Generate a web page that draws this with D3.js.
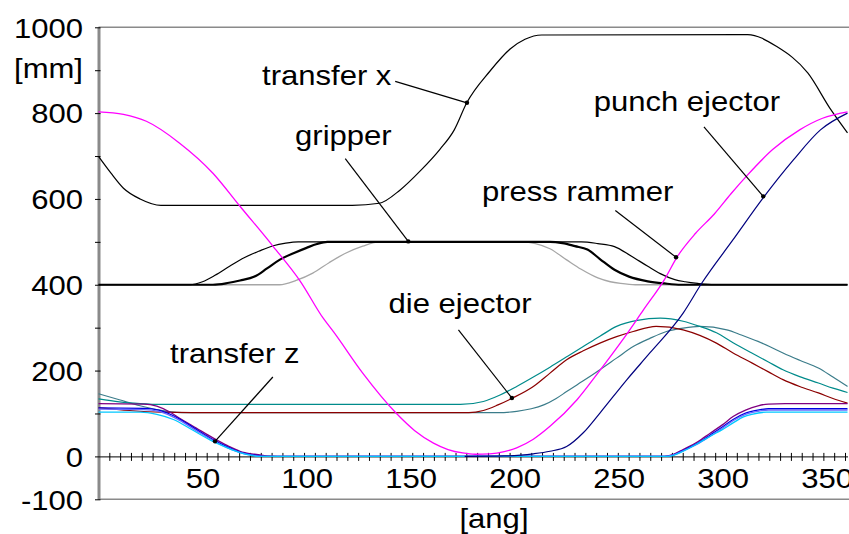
<!DOCTYPE html>
<html>
<head>
<meta charset="utf-8">
<script src="https://cdn.jsdelivr.net/npm/d3@7/dist/d3.min.js"></script>
<style>
  body { margin: 0; background: #fff; }
  svg text { font-family: "Liberation Sans", Arial, sans-serif; font-size: 27px; fill: #000; }
</style>
</head>
<body>
<div id="chart-area"></div>
<script>
/*
*    cam diagram - motion curves over one press cycle
*/

// [angle, mm] pairs
var transferX = [[0,699],[6,660],[12,625],[20,600],[30,585],[122,585],[135,590],[145,621],[155,667],[164,715],[171,761],[177,824],
                 [188,897],[198,950],[205,972],[213,982],[312,983],[326,955],[341,893],[352,808],[360,754]];
var pressRammer = [[0,803],[12,797],[23,781],[39,730],[55,660],[68,583],[84,489],[97,408],[108,322],[113,290],[127,194],[143,101],
                   [152,60],[161,31],[168,16],[175,8],[181,5],[188,6],[195,11],[201,20],[209,40],[217,70],[230,132],[240,194],
                   [252,272],[262,342],[272,412],[278,464],[287,520],[296,565],[304,612],[312,656],[324,715],[337,761],[348,788],[360,803]];
var punchEjector = [[176,0],[195,1],[203,3],[209,6],[217,12],[225,23],[233,55],[241,101],[254,179],[265,241],[281,334],[290,404],
                    [305,505],[320,606],[334,691],[347,761],[360,800]];
var gripperThin = [[0,400],[44,400],[50,407],[56,422],[63,443],[70,463],[77,478],[84,491],[90,497],[96,500],[232,500],[240,496],
                   [248,489],[256,467],[264,443],[270,426],[277,412],[282,407],[288,403],[296,400],[360,400]];
var gripperThick = [[0,400],[55,400],[62,404],[68,410],[75,419],[81,438],[87,458],[94,474],[100,486],[105,495],[110,500],[217,500],
                    [223,497],[229,490],[235,482],[241,460],[248,435],[255,419],[264,408],[272,403],[280,400],[360,400]];
var gripperGray = [[0,400],[87,400],[95,410],[103,427],[111,452],[119,474],[127,490],[135,500],[204,500],[210,496],[217,484],
                   [225,458],[232,436],[240,416],[246,407],[251,403],[258,400],[360,400]];
var dieTeal = [[0,134],[10,127],[20,123],[30,121],[174,121],[185,128],[193,143],[201,163],[209,185],[217,208],[225,232],[233,256],
               [241,280],[249,303],[259,317],[270,322],[281,315],[289,303],[297,288],[305,265],[314,241],[322,220],[329,202],
               [337,186],[346,171],[353,159],[360,149]];
var dieRed = [[0,113],[15,107],[30,103],[45,102],[178,102],[185,107],[192,120],[199,136],[209,163],[217,194],[225,225],[233,246],
              [241,264],[249,279],[257,291],[268,303],[281,295],[289,282],[297,264],[305,241],[314,218],[322,197],[329,179],
              [337,163],[346,148],[353,135],[360,124]];
var dieSlate = [[0,146],[10,132],[20,118],[28,109],[40,102],[192,102],[201,105],[208,111],[214,120],[220,135],[225,151],[233,176],
                [241,202],[249,229],[257,256],[265,275],[273,291],[281,299],[289,303],[302,295],[309,283],[317,268],[323,255],
                [329,241],[337,224],[346,206],[353,185],[360,163]];
var zPurple = [[0,123],[22,122],[28,117],[34,104],[39,89],[47,66],[55,43],[62,25],[68,12],[75,5],[81,1],[86,0],[272,0],[276,4],
               [281,16],[288,34],[294,54],[300,74],[305,93],[311,108],[317,118],[322,122],[330,123],[360,123]];
var zBlue = [[0,113],[22,112],[29,108],[35,97],[39,87],[47,63],[55,39],[62,22],[68,10],[75,3],[81,0],[272,0],[276,3],[281,14],
             [288,31],[294,50],[300,69],[305,86],[311,101],[317,108],[322,111],[360,111]];
var zBlue2 = [[0,110],[22,109],[29,105],[35,94],[39,84],[47,60],[55,37],[62,20],[68,9],[75,2],[80,0],[272,0],[276,3],[281,13],
              [288,29],[294,47],[300,66],[305,83],[311,98],[317,105],[322,108],[360,108]];
var zCyan = [[0,103],[20,103],[28,98],[36,86],[45,62],[55,35],[62,20],[68,9],[73,3],[77,0],[272,0],[276,2],[281,12],[288,30],
             [294,47],[300,63],[305,78],[310,92],[314,98],[321,103],[360,103]];

var yTicks = d3.range(-100, 1001, 100);
var yLabels = [-100, 0, 200, 400, 600, 800, 1000];
var xLabels = [50, 100, 150, 200, 250, 300, 350];

var noteTexts = ["transfer x", "gripper", "press rammer", "punch ejector", "die ejector", "transfer z"];
var notePos = [[78.6,866],[94.5,726],[184.3,596],[238,804],[139.4,334],[34.4,218]];
var noteFrom = [[142.6,874],[118.6,694],[248.4,573],[291,768],[173,295],[83.8,185]];
var noteTo = [[177.1,824],[148.9,501],[277.6,464],[319.5,606],[198.7,136],[56,35]];

var chartWidth = 849;
var chartHeight = 534;
var stretch = "scale(1.15,1)";

var svg = d3.select("#chart-area").append("svg").attr("width", chartWidth).attr("height", chartHeight);

var x = d3.scaleLinear().domain([0, 360]).range([98.5, 847.5]);
var y = d3.scaleLinear().domain([-100, 1000]).range([499.3, 27.3]);

// frame lines top and bottom
svg.append("line").attr("x1", x(0)).attr("x2", chartWidth).attr("y1", y(1000)).attr("y2", y(1000))
    .attr("stroke", "#8a8a8a").attr("stroke-width", 1.5);
svg.append("line").attr("x1", x(0)).attr("x2", chartWidth).attr("y1", y(-100)).attr("y2", y(-100))
    .attr("stroke", "#8a8a8a").attr("stroke-width", 1.5);

// x axis at zero
var xAxisGroup = svg.append("g").attr("transform", "translate(0," + y(0) + ")")
    .call(d3.axisBottom(x).tickValues(d3.range(0, 361, 5.2)).tickSizeOuter(0).tickFormat(""));
xAxisGroup.select(".domain").attr("stroke", "#000");
xAxisGroup.selectAll(".tick line").attr("y1", -3.5).attr("y2", 4.5).attr("stroke", "#000");

var xLabelGroup = svg.append("g").attr("transform", "translate(0," + y(0) + ")")
    .call(d3.axisBottom(x).tickValues(xLabels).tickSize(0).tickPadding(12));
xLabelGroup.select(".domain").remove();
xLabelGroup.selectAll("text").attr("font-size", null).attr("font-family", null).attr("transform", stretch);

// y axis
var yAxisGroup = svg.append("g").attr("transform", "translate(" + x(0) + ",0)")
    .call(d3.axisLeft(y).tickValues(yTicks).tickSizeOuter(0)
        .tickFormat(function(d) { return yLabels.indexOf(d) >= 0 ? d : ""; }));
yAxisGroup.select(".domain").attr("stroke", "#8a8a8a").attr("stroke-width", 3);
yAxisGroup.selectAll(".tick line").attr("x1", 2).attr("x2", -3.5).attr("stroke", "#000");
yAxisGroup.selectAll(".tick text").attr("x", null).attr("dy", "0.36em").attr("font-size", null).attr("font-family", null)
    .attr("transform", "translate(-15.5,0) " + stretch);

svg.append("text").attr("text-anchor", "end").attr("transform", "translate(83,78) " + stretch).text("[mm]");
svg.append("text").attr("text-anchor", "middle").attr("transform", "translate(494,528) " + stretch).text("[ang]");

// motion curves
var line = d3.line().x(function(d) { return x(d[0]); }).y(function(d) { return y(d[1]); }).curve(d3.curveMonotoneX);

var curves = [
    {data: gripperGray, color: "#a6a6a6", width: 1.3},
    {data: gripperThin, color: "#000", width: 1.2},
    {data: gripperThick, color: "#000", width: 2.2},
    {data: transferX, color: "#000", width: 1.2},
    {data: dieSlate, color: "#3b7c8a", width: 1.2},
    {data: dieRed, color: "#8b0000", width: 1.2},
    {data: dieTeal, color: "#008b8b", width: 1.2},
    {data: zPurple, color: "#800080", width: 1.3},
    {data: zBlue, color: "#0000e0", width: 1.3},
    {data: zBlue2, color: "#6a6aff", width: 1.3},
    {data: zCyan, color: "#00c8ff", width: 1.3},
    {data: punchEjector, color: "#00007f", width: 1.2},
    {data: pressRammer, color: "#ff00ff", width: 1.3}
];

svg.selectAll("path.curve").data(curves).enter().append("path").attr("class", "curve")
    .attr("d", function(d) { return line(d.data); })
    .attr("fill", "none")
    .attr("stroke", function(d) { return d.color; })
    .attr("stroke-width", function(d) { return d.width; });

// annotations with leader lines
var notes = svg.selectAll("g.note").data(noteTexts).enter().append("g").attr("class", "note");
notes.append("line")
    .attr("x1", function(d, i) { return x(noteFrom[i][0]); }).attr("y1", function(d, i) { return y(noteFrom[i][1]); })
    .attr("x2", function(d, i) { return x(noteTo[i][0]); }).attr("y2", function(d, i) { return y(noteTo[i][1]); })
    .attr("stroke", "#000").attr("stroke-width", 1.2);
notes.append("circle")
    .attr("cx", function(d, i) { return x(noteTo[i][0]); }).attr("cy", function(d, i) { return y(noteTo[i][1]); })
    .attr("r", 2.2).attr("fill", "#000");
notes.append("text")
    .attr("transform", function(d, i) { return "translate(" + x(notePos[i][0]) + "," + y(notePos[i][1]) + ") " + stretch; })
    .text(function(d) { return d; });
</script>
</body>
</html>
